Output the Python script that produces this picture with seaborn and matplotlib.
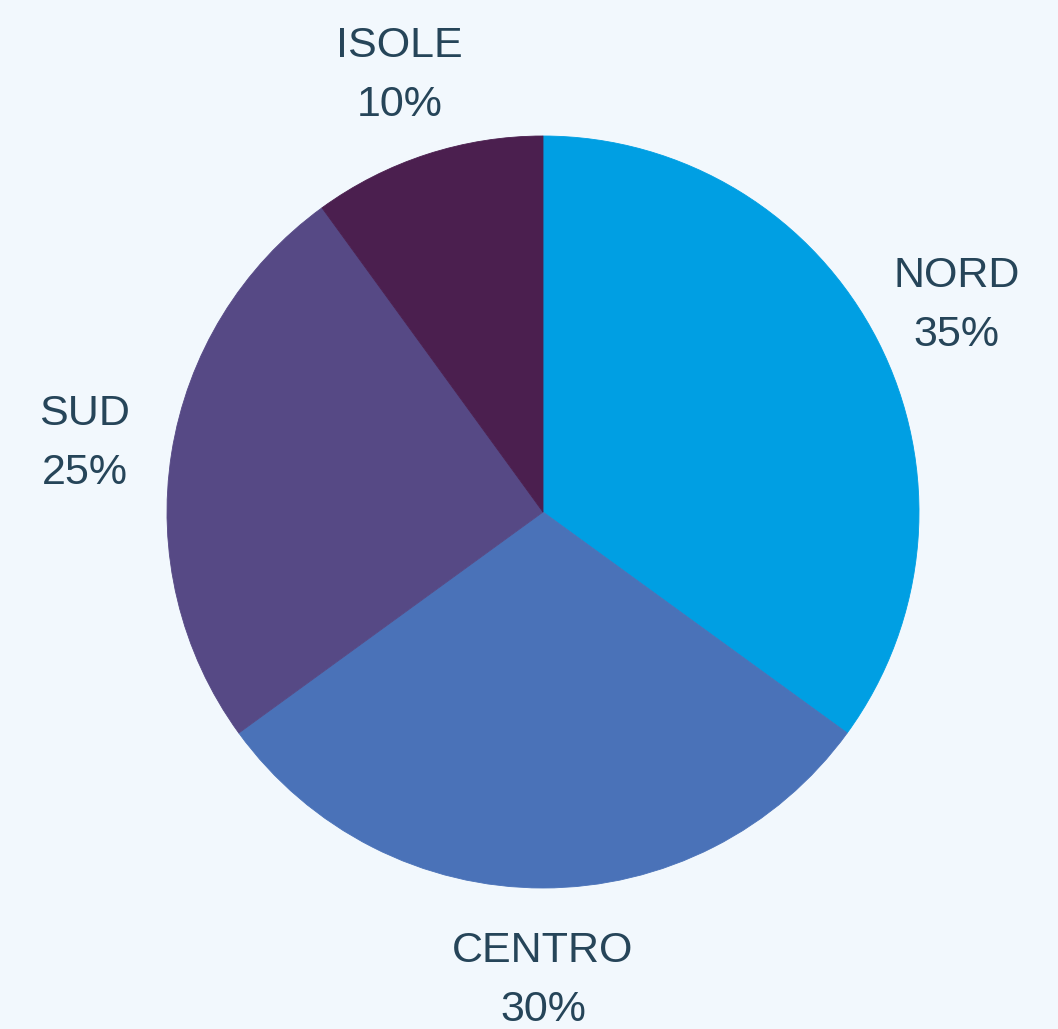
import numpy as np
import matplotlib
matplotlib.use("Agg")
import matplotlib.pyplot as plt
import seaborn as sns

categories = ["NORD", "CENTRO", "SUD", "ISOLE"]
values = [35, 30, 25, 10]
colors = ["#009FE3", "#4A72B8", "#564985", "#4B1F4F"]

BG = "#F2F8FD"
TXT = "#264559"

sns.set_theme(style="white")
plt.rcParams['font.family'] = ['Liberation Sans', 'DejaVu Sans']

W, H, DPI = 1058, 1029, 100
cx, cy, R = 543, 512, 376

fig = plt.figure(figsize=(W / DPI, H / DPI), dpi=DPI, facecolor=BG)
ax = fig.add_axes([0, 0, 1, 1])
ax.set_facecolor(BG)

wedges, _ = ax.pie(values, colors=colors, startangle=90, counterclock=False,
                   radius=1.0, wedgeprops=dict(linewidth=0.6))
for w, c in zip(wedges, colors):
    w.set_edgecolor(c)

ax.set_aspect('auto')
ax.set_xlim(-cx / R, (W - cx) / R)
ax.set_ylim(-(H - cy) / R, cy / R)
ax.axis('off')

total = sum(values)
lr = 1.234
for w, cat, v in zip(wedges, categories, values):
    ang = np.deg2rad((w.theta1 + w.theta2) / 2)
    x, y = lr * np.cos(ang), lr * np.sin(ang)
    pct = f"{round(100 * v / total)}%"
    ax.annotate(cat, (x, y), xytext=(0, 14 * 72 / DPI), textcoords='offset points',
                ha='center', va='baseline', fontsize=31, color=TXT)
    ax.annotate(pct, (x, y), xytext=(0, -45 * 72 / DPI), textcoords='offset points',
                ha='center', va='baseline', fontsize=31, color=TXT)

fig.savefig("out.png", dpi=DPI, facecolor=BG)
